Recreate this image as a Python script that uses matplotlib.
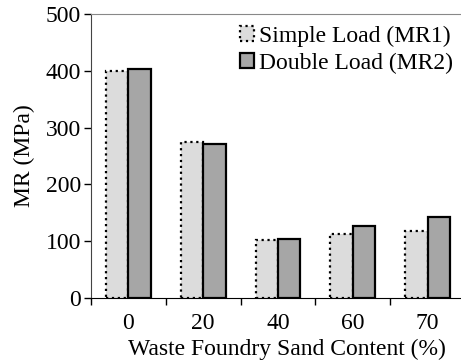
import matplotlib.pyplot as plt
import numpy as np

plt.rcParams['font.family'] = ['Liberation Serif', 'DejaVu Serif']

# Waste foundry sand content (%) and resilient modulus (MPa)
categories = ["0", "20", "40", "60", "70"]
mr1 = [400, 274, 102, 112, 118]
mr2 = [404, 271, 104, 126, 142]

fig = plt.figure(figsize=(4.61, 3.64), dpi=100)
ax = fig.add_axes([91 / 461, 66 / 364, 374 / 461, 284 / 364])

x = np.arange(len(categories))
w = 0.3
ax.bar(x - w / 2, mr1, w, color='#dcdcdc', edgecolor='black', linestyle=':',
       linewidth=1.6, label='Simple Load (MR1)')
ax.bar(x + w / 2, mr2, w, color='#a6a6a6', edgecolor='black', linestyle='-',
       linewidth=1.6, label='Double Load (MR2)')

ax.set_xlim(-0.5, len(categories) - 0.5)
ax.set_ylim(0, 500)
ax.set_yticks(range(0, 501, 100))
ax.set_xticks(x)
ax.set_xticklabels(categories)
ax.set_xticks(np.arange(len(categories) + 1) - 0.5, minor=True)
ax.tick_params(axis='x', which='major', length=0, labelsize=17, pad=11)
ax.tick_params(axis='x', which='minor', length=5, direction='out', width=1)
ax.tick_params(axis='y', length=5, direction='out', width=1, labelsize=17, pad=2)

ax.set_xlabel('Waste Foundry Sand Content (%)', fontsize=17, labelpad=4)
ax.xaxis.set_label_coords(0.525, -0.145)
ax.set_ylabel('MR (MPa)', fontsize=17, labelpad=8)

ax.spines['right'].set_visible(False)
ax.spines['top'].set_color('#888888')
ax.spines['left'].set_color('#444444')
ax.spines['bottom'].set_color('black')

ax.legend(loc='upper right', frameon=False, fontsize=17, handlelength=0.6,
          handleheight=0.6, handletextpad=0.2, labelspacing=0.25,
          borderaxespad=0.2, bbox_to_anchor=(1.005, 1.01))

fig.savefig('out.png', dpi=100)
